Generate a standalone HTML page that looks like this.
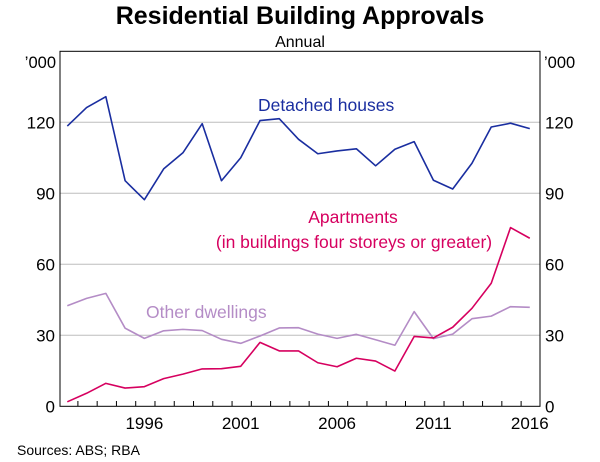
<!DOCTYPE html>
<html><head><meta charset="utf-8"><style>
body{margin:0;background:#fff;}
svg{display:block;font-family:"Liberation Sans",Arial,sans-serif;}
</style></head><body>
<svg id="chart" width="600" height="462" viewBox="0 0 600 462">
<text x="300" y="24" text-anchor="middle" font-size="25" font-weight="bold">Residential Building Approvals</text>
<text x="300" y="47" text-anchor="middle" font-size="16">Annual</text>
<text x="56" y="68" text-anchor="end" font-size="16.5">’000</text>
<text x="544" y="68" text-anchor="start" font-size="16.5">’000</text>
<g id="grid"></g>
<g id="series"></g>
<rect x="60" y="51.3" width="480" height="355" fill="none" stroke="#000" stroke-width="1"/>
<g id="axes"></g>
<text x="258" y="111" font-size="17.5" fill="#1a2ea0">Detached houses</text>
<text x="353" y="223" text-anchor="middle" font-size="17.5" fill="#d6005f">Apartments</text>
<text x="354" y="248" text-anchor="middle" font-size="17.5" fill="#d6005f">(in buildings four storeys or greater)</text>
<text x="146" y="318" font-size="17.5" fill="#b48cc6">Other dwellings</text>
<text x="17" y="455" font-size="14">Sources: ABS; RBA</text>
</svg>
<script>
const years = [1992,1993,1994,1995,1996,1997,1998,1999,2000,2001,2002,2003,2004,2005,2006,2007,2008,2009,2010,2011,2012,2013,2014,2015,2016];
const detached = [118.4,126.2,130.8,95.3,87.3,100.3,107.1,119.4,95.3,105.0,120.7,121.5,112.8,106.7,107.9,108.8,101.6,108.6,111.8,95.5,91.8,102.7,118.0,119.6,117.3];
const apartments = [1.9,5.5,9.7,7.7,8.3,11.7,13.6,15.8,15.9,16.9,27.0,23.4,23.4,18.4,16.7,20.3,19.1,14.9,29.5,28.9,33.4,41.4,52.0,75.5,71.0];
const otherDwellings = [42.5,45.6,47.7,33.0,28.7,31.9,32.5,32.0,28.3,26.6,29.7,33.1,33.2,30.5,28.7,30.4,28.1,25.8,40.0,28.6,30.5,37.0,38.1,42.1,41.8];
const yTicks = [0,30,60,90,120];
const xLabels = [1996,2001,2006,2011,2016];

const NS='http://www.w3.org/2000/svg';
const xS = y => 67.3 + (y-1992)*19.27;
const yS = v => 406.3 - v*2.367;
function mk(tag, attrs, parent){const e=document.createElementNS(NS,tag);for(const k in attrs)e.setAttribute(k,attrs[k]);parent.appendChild(e);return e;}
const grid=document.getElementById('grid'), axes=document.getElementById('axes'), ser=document.getElementById('series');
yTicks.forEach(v=>{
  if(v>0){const l=mk('line',{x1:60,x2:540,y1:yS(v),y2:yS(v),stroke:'#bdbdbd','stroke-width':1},grid);
  
  }
  const t1=mk('text',{x:55,y:yS(v)+6,'text-anchor':'end','font-size':17},axes);t1.textContent=v;
  
  
  const t2=mk('text',{x:545,y:yS(v)+6,'text-anchor':'start','font-size':17},axes);t2.textContent=v;
  
  
});
for(let y=1992;y<2016;y++){const x=xS(y+0.55);const t=mk('line',{x1:x,x2:x,y1:406.3,y2:401,stroke:'#000','stroke-width':1},axes);
  
  }
xLabels.forEach(y=>{const t=mk('text',{x:xS(y),y:429,'text-anchor':'middle','font-size':17},axes);t.textContent=y;
  
  });
function line(vals,color,name){const p=mk('polyline',{points:vals.map((v,i)=>xS(years[i])+','+yS(v)).join(' '),fill:'none',stroke:color,'stroke-width':1.6,'stroke-linejoin':'round'},ser);
  
  }
line(otherDwellings,'#b48cc6','other-dwellings-line');
line(apartments,'#d6005f','apartments-line');
line(detached,'#1a2ea0','detached-houses-line');
</script>
</body></html>
